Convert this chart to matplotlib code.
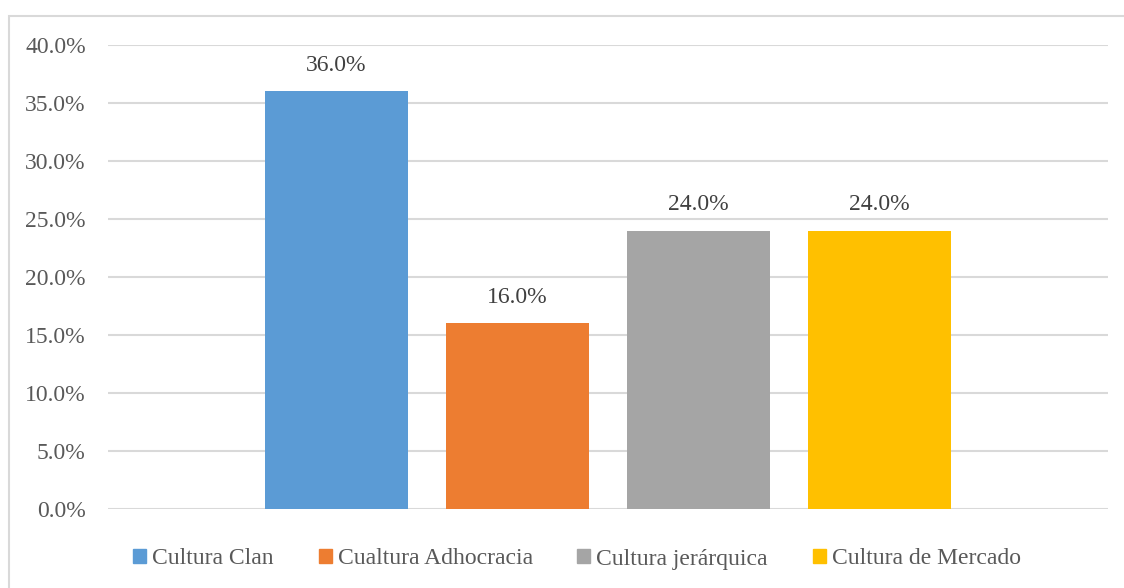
import matplotlib
matplotlib.use("Agg")
import matplotlib.pyplot as plt
from matplotlib.patches import Rectangle, Patch

series = ["Cultura Clan", "Cualtura Adhocracia", "Cultura jerárquica", "Cultura de Mercado"]
values = [36.0, 16.0, 24.0, 24.0]
colors = ["#5B9BD5", "#ED7D31", "#A5A5A5", "#FFC000"]
yticks = [0, 5, 10, 15, 20, 25, 30, 35, 40]

plt.rcParams['font.family'] = ['Liberation Serif', 'DejaVu Serif']
FS = 17
W, H = 1124, 588
fig = plt.figure(figsize=(W/100, H/100), dpi=100)
fig.patches.append(Rectangle((8.5/W, -0.2), 1.2, 1.2 - 15.5/H, transform=fig.transFigure,
                             fill=False, edgecolor="#D9D9D9", linewidth=1.5, zorder=0))
ax = fig.add_axes([108/W, 1 - 509/H, 1000/W, (509 - 45)/H])

step = 0.181
width = 0.143
for i, (s, v, c) in enumerate(zip(series, values, colors)):
    x = (i - 1.5) * step
    ax.bar(x, v, width=width, color=c, zorder=3, label=s)
    ax.annotate(f"{v:.1f}%", (x, v), xytext=(0, 11), textcoords="offset points",
                ha="center", va="bottom", fontsize=FS, color="#404040")

ax.set_xlim(-0.5, 0.5)
ax.set_ylim(0, 40)
ax.set_yticks(yticks)
ax.set_yticklabels([f"{t:.1f}%" for t in yticks], fontsize=FS, color="#595959")
ax.set_xticks([])
ax.tick_params(axis='y', length=0, pad=16)
ax.grid(axis='y', color="#D9D9D9", linewidth=1.5, zorder=0)
for sp in ax.spines.values():
    sp.set_visible(False)

handles = [Patch(color=c) for c in colors]
leg = fig.legend(handles, series, loc="center", bbox_to_anchor=(577/W, 1 - 559/H), ncol=4,
                 frameon=False, fontsize=FS, handlelength=0.55, handleheight=0.55,
                 handletextpad=0.25, columnspacing=1.9, labelcolor="#595959")

fig.savefig("out.png", dpi=100)
